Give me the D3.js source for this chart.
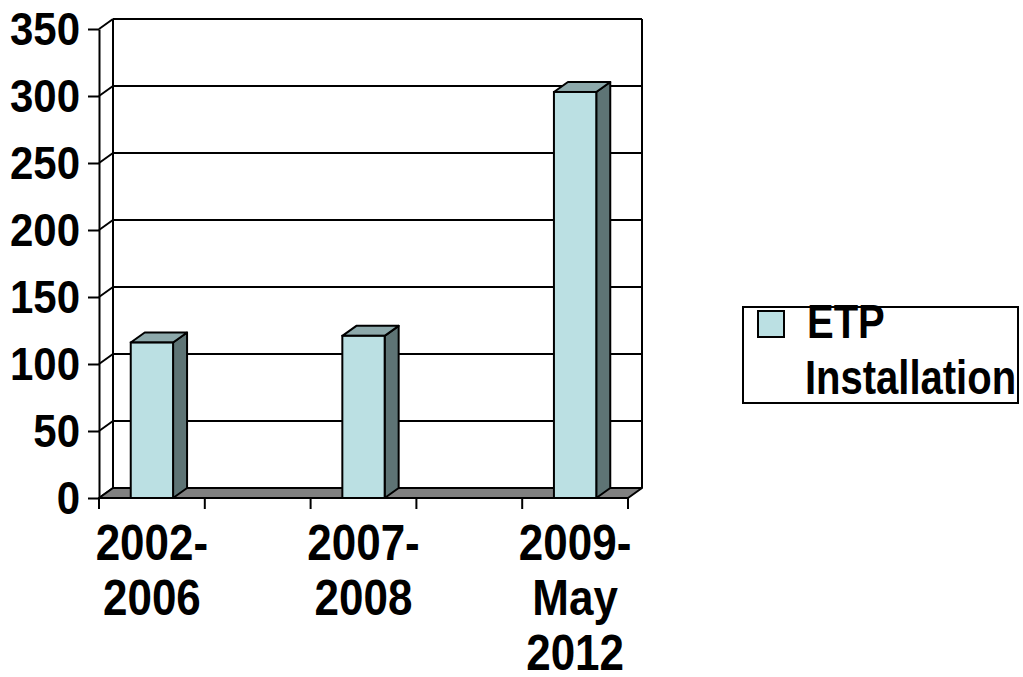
<!DOCTYPE html>
<html>
<head>
<meta charset="utf-8">
<script src="https://cdn.jsdelivr.net/npm/d3@7"></script>
<style>
  html, body { margin: 0; padding: 0; background: #fff; }
  svg { display: block; }
  text { font-family: "Liberation Sans", Arial, sans-serif; font-weight: bold; fill: #000; }
</style>
</head>
<body>
<svg id="chart" width="1023" height="677"></svg>
<script>
// Category slots (blank slots keep the spacing between the periods)
const categories = ["2002-2006", "gap1", "2007-2008", "gap2", "2009-May 2012"];
const categoryLabels = [["2002-", "2006"], [], ["2007-", "2008"], [], ["2009-", "May", "2012"]];
const seriesName = ["ETP", "Installation"];
const etpValues = [116, null, 121, null, 303];
const yTicks = [0, 50, 100, 150, 200, 250, 300, 350];

const colors = { front: "#BBE0E3", top: "#8DA9AB", side: "#5E7475", floor: "#808080" };

(function () {
const svg = d3.select("#chart");
const plotLeft = 99, plotRight = 628, plotTop = 29, plotBottom = 498;
const dx = 14, dy = -10; // depth offset of the back wall

const x = d3.scaleBand().domain(categories).range([plotLeft, plotRight]).paddingInner(0).paddingOuter(0);
const y = d3.scaleLinear().domain([0, 350]).range([plotBottom, plotTop]);
const barW = x.bandwidth() * 0.4;

const stroke = "#000", sw = 2;

// Back wall: gridlines and edges
const wall = svg.append("g");
wall.selectAll("line.grid").data(yTicks.filter(t => t > 0)).join("line")
  .attr("x1", plotLeft + dx).attr("x2", plotRight + dx)
  .attr("y1", d => y(d) + dy).attr("y2", d => y(d) + dy)
  .attr("stroke", stroke).attr("stroke-width", sw);
wall.append("line").attr("x1", plotLeft + dx).attr("x2", plotLeft + dx)
  .attr("y1", y(350) + dy).attr("y2", plotBottom + dy).attr("stroke", stroke).attr("stroke-width", sw);
wall.append("line").attr("x1", plotRight + dx).attr("x2", plotRight + dx)
  .attr("y1", y(350) + dy).attr("y2", plotBottom + dy).attr("stroke", stroke).attr("stroke-width", sw);
// Side wall connectors at each tick
wall.selectAll("line.conn").data(yTicks).join("line")
  .attr("x1", plotLeft).attr("x2", plotLeft + dx)
  .attr("y1", d => y(d)).attr("y2", d => y(d) + dy)
  .attr("stroke", stroke).attr("stroke-width", sw);

// Floor
svg.append("path")
  .attr("d", `M${plotLeft},${plotBottom}L${plotRight},${plotBottom}L${plotRight + dx},${plotBottom + dy}L${plotLeft + dx},${plotBottom + dy}Z`)
  .attr("fill", colors.floor).attr("stroke", stroke).attr("stroke-width", sw).attr("stroke-linejoin", "round");

// Bars
const barData = categories.map((c, i) => ({ c, v: etpValues[i] })).filter(d => d.v != null);
const bars = svg.append("g").selectAll("g").data(barData).join("g");
bars.each(function (d) {
  const g = d3.select(this);
  const x0 = x(d.c) + (x.bandwidth() - barW) / 2, x1 = x0 + barW;
  const yt = y(d.v);
  g.append("path")
    .attr("d", `M${x1},${yt}L${x1 + dx},${yt + dy}L${x1 + dx},${plotBottom + dy}L${x1},${plotBottom}Z`)
    .attr("fill", colors.side).attr("stroke", stroke).attr("stroke-width", sw).attr("stroke-linejoin", "round");
  g.append("path")
    .attr("d", `M${x0},${yt}L${x0 + dx},${yt + dy}L${x1 + dx},${yt + dy}L${x1},${yt}Z`)
    .attr("fill", colors.top).attr("stroke", stroke).attr("stroke-width", sw).attr("stroke-linejoin", "round");
  g.append("rect")
    .attr("x", x0).attr("y", yt).attr("width", barW).attr("height", plotBottom - yt)
    .attr("fill", colors.front).attr("stroke", stroke).attr("stroke-width", sw);
});

// Y axis
const yAxis = d3.axisLeft(y).tickValues(yTicks).tickSize(11).tickPadding(8).tickSizeOuter(0);
const yg = svg.append("g").attr("transform", `translate(${plotLeft},0)`).call(yAxis);
yg.select(".domain").attr("stroke", stroke).attr("stroke-width", sw);
yg.selectAll(".tick line").attr("stroke", stroke).attr("stroke-width", sw);
yg.selectAll(".tick text")
  .attr("font-size", 42).attr("font-family", "Liberation Sans, Arial, sans-serif")
  .attr("font-weight", "bold").attr("fill", "#000")
  .attr("x", null).attr("dy", null)
  .attr("transform", "translate(-19,15) scale(1,1.1)");

// X axis: line and boundary ticks
const xg = svg.append("g");
xg.append("line").attr("x1", plotLeft).attr("x2", plotRight).attr("y1", plotBottom).attr("y2", plotBottom)
  .attr("stroke", stroke).attr("stroke-width", sw);
const bounds = categories.map(c => x(c)).concat([plotRight]);
xg.selectAll("line.tick").data(bounds).join("line")
  .attr("x1", d => d).attr("x2", d => d).attr("y1", plotBottom).attr("y2", plotBottom + 11)
  .attr("stroke", stroke).attr("stroke-width", sw);
xg.selectAll("g.label").data(categories).join("g")
  .attr("transform", d => `translate(${x(d) + x.bandwidth() / 2},0)`)
  .each(function (d, i) {
    const g = d3.select(this);
    categoryLabels[i].forEach((line, k) => {
      g.append("text")
        .attr("text-anchor", "middle").attr("font-size", 44)
        .attr("transform", `translate(0,${560 + k * 55}) scale(1,1.12)`)
        .text(line);
    });
  });

// Legend
const lg = svg.append("g");
lg.append("rect").attr("x", 743).attr("y", 307).attr("width", 275).attr("height", 96)
  .attr("fill", "#fff").attr("stroke", stroke).attr("stroke-width", sw);
lg.append("rect").attr("x", 758).attr("y", 311).attr("width", 26).attr("height", 26)
  .attr("fill", colors.front).attr("stroke", stroke).attr("stroke-width", sw);
lg.append("text").attr("font-size", 40).attr("transform", "translate(807,338) scale(1,1.2)").text(seriesName[0]);
lg.append("text").attr("font-size", 40).attr("transform", "translate(805,394) scale(1,1.2)").text(seriesName[1]);
})();
</script>
</body>
</html>
